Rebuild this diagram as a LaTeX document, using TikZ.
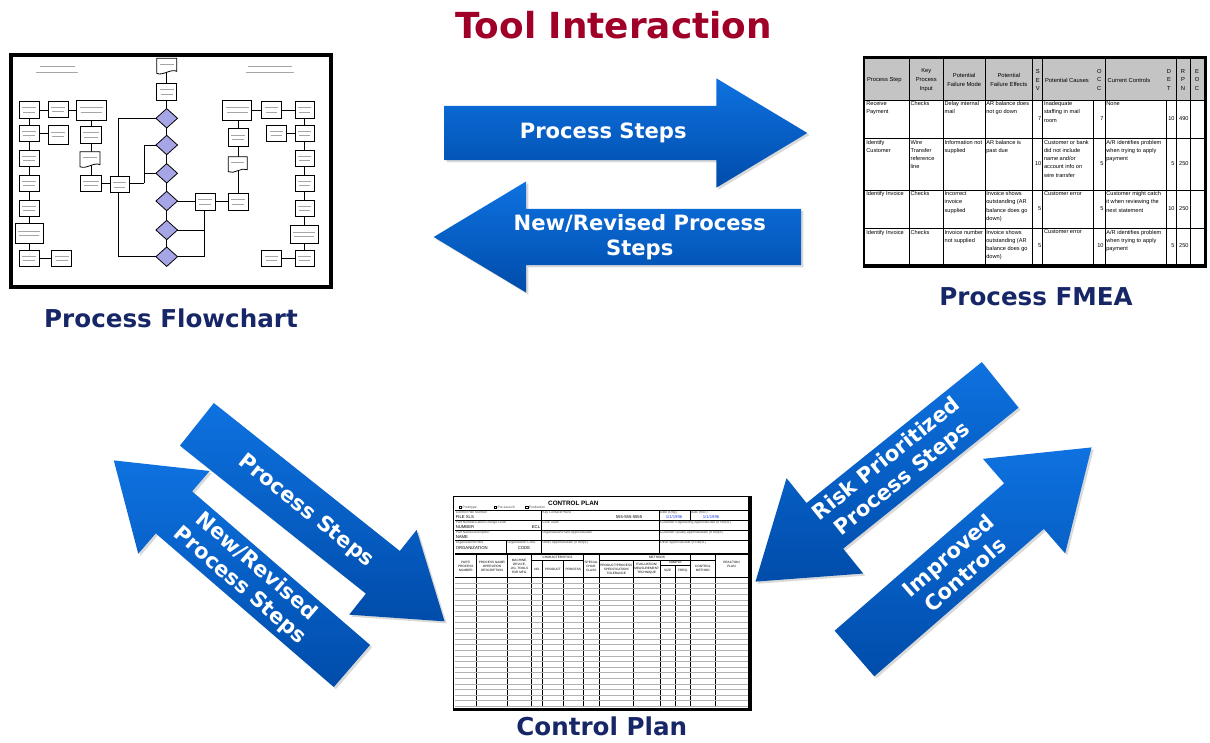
\documentclass[tikz,border=0pt]{standalone}
\usepackage{fontspec}
\setmainfont{DejaVu Sans}
\newfontfamily\sheetfont{Liberation Sans}
\usetikzlibrary{shapes.arrows,shadows,calc}

\definecolor{titlered}{RGB}{160,0,40}
\definecolor{labelnavy}{RGB}{22,38,102}
\definecolor{arrowlight}{RGB}{14,114,224}
\definecolor{arrowdark}{RGB}{0,76,170}
\definecolor{decision}{RGB}{166,166,230}
\definecolor{headgray}{RGB}{196,196,196}
\definecolor{dateblue}{RGB}{40,70,240}

\newcommand{\fmearow}[8]{%
  \node[cell,anchor=north west] (r#1a) at (865.3,#2) {#3};
  \node[cell,anchor=north west] (r#1b) at (909.6,#2) {#4};
  \node[cell,anchor=north west] (r#1c) at (943.6,#2) {#5};
  \node[cell,anchor=north west] (r#1d) at (985.3,#2) {#6};
  \node[cell,anchor=north west] (r#1e) at (1043,#2) {#7};
  \node[cell,anchor=north west] (r#1f) at (1105.3,#2) {#8};}

\begin{document}
\begin{tikzpicture}[x=0.02cm,y=-0.02cm,
  title/.style={font=\fontsize{20.4}{24}\selectfont\bfseries,text=titlered},
  caption/.style={font=\fontsize{14}{17}\selectfont\bfseries,text=labelnavy},
  bigarrow/.style={single arrow,minimum width=0pt,inner xsep=0pt,
    top color=arrowlight,bottom color=arrowdark,
    drop shadow={opacity=.3,shadow xshift=1.2pt,shadow yshift=-1.2pt}},
  arrowtext/.style={text=white,align=center,inner sep=0pt,
    font=\fontsize{12}{14.4}\selectfont\bfseries},
  fline/.style={line width=.45pt},
  fbox/.style={line width=.45pt,fill=white},
  ftext/.style={gray!70,line width=.35pt},
  grid/.style={line width=.4pt},
  cell/.style={inner sep=.4pt,align=left,font=\sheetfont\fontsize{3.2}{4.7}\selectfont},
  head/.style={inner sep=.4pt,align=center,font=\sheetfont\fontsize{3.3}{5}\selectfont},
  form/.style={inner sep=0pt,font=\sheetfont\fontsize{1.9}{2.3}\selectfont,text=black!70},
  formval/.style={inner sep=0pt,font=\sheetfont\fontsize{2.4}{2.8}\selectfont},
  colhead/.style={inner sep=0pt,align=center,font=\sheetfont\fontsize{1.8}{2.3}\selectfont}]
\useasboundingbox (0,0) rectangle (1210,743);

\node[title,anchor=base] (title) at (613.5,38.3) {Tool Interaction};

% flowchart sheet
\draw[line width=2.3pt] (11.3,54.7) rectangle (331,287);
\draw[ftext] (40,66) -- (75,66) (36,72) -- (78,72) (248,66) -- (292,66) (246,72) -- (294,72);
\draw[fline] (29.3,110) -- (29.3,258.3) (39.3,110) -- (76.7,110) (39.3,133) -- (48.3,133)
  (91,120) -- (91,183.3) -- (110,183.3) (39.3,258.3) -- (51.7,258.3)
  (166.7,66) -- (166.7,256.7)
  (156.7,118.3) -- (118.3,118.3) -- (118.3,256.7) -- (156.7,256.7)
  (129.3,183.3) -- (144,183.3) (144,145) -- (144,183.3) (144,145) -- (156.7,145) (144,173.3) -- (156.7,173.3)
  (166.7,201) -- (228.3,201)
  (204,210) -- (204,256.7) (166.7,230) -- (204,230) (166.7,256.7) -- (204,256.7)
  (238.3,110) -- (238.3,201) (251.7,110) -- (295,110) (304.7,110) -- (304.7,258.3)
  (286,133) -- (295,133) (281,258.3) -- (295,258.3);
\foreach \xa/\ya/\xb/\yb in {19.3/101.7/39.3/118.3, 48.3/101.7/68.3/117.3, 76.7/100/106/120,
  19.3/125/39.3/141.7, 48.3/125/68.3/144, 80/126.7/101.7/143.3, 19.3/150/39.3/166.7,
  19.3/175/39.3/191.7, 80/175/101.7/191.7, 110/176.7/129.3/192.7, 19.3/200/39.3/216.7,
  15/223.3/43.3/243.3, 19.3/250/39.3/266.7, 51.7/250/71.7/266.7,
  156.7/83.3/176.7/100, 195/193.3/215/210,
  222.7/100/251.7/120, 261.7/101.7/281/118.3, 295/101.7/314.3/118.3, 228.3/128.3/248.3/146.7,
  266.7/125/286/141.7, 295/125/314.3/141.7, 295/150/314.3/166.7, 228.3/193.3/248.3/210,
  295/175/314.3/191.7, 295/200/314.3/216.7, 290/225/318.3/243.3, 295/250/314.3/266.7,
  261.7/250/281/266.7}
{
\draw[fbox] (\xa,\ya) rectangle (\xb,\yb);
\draw[ftext] ({\xa+3},{(\ya+\yb)/2-2.2}) -- ({\xb-3},{(\ya+\yb)/2-2.2})
  ({\xa+4},{(\ya+\yb)/2+2.2}) -- ({\xb-4},{(\ya+\yb)/2+2.2});
}
\foreach \xa/\ya/\xb/\yb in {80/151.7/100/166.7, 228.3/156.7/247.3/171.7, 156.7/58.3/176.7/73.3}
{
\draw[fbox] (\xa,\ya) -- (\xb,\ya) -- (\xb,{\yb-2}) .. controls ({\xa+0.7*(\xb-\xa)},{\yb-5}) and ({\xa+0.3*(\xb-\xa)},{\yb+3}) .. (\xa,\yb) -- cycle;
\draw[ftext] ({\xa+3},{(\ya+\yb)/2-1.5}) -- ({\xb-3},{(\ya+\yb)/2-1.5});
}
\foreach \cy in {118.3,145,173.3,201,230,256.7}
\draw[fbox,fill=decision] (166.7,\cy-9.7) -- (177.5,\cy) -- (166.7,\cy+9.7) -- (155.9,\cy) -- cycle;
\node[caption,anchor=base] (flowcap) at (171,327.3) {Process Flowchart};

% FMEA sheet
\fill (862.7,56) rectangle (1206.7,268.3);
\fill[white] (865,59.3) rectangle (1203.5,264);
\fill[headgray] (865,59.3) rectangle (1203.5,100);
\draw[grid] (865,100) -- (1203.5,100) (865,138.3) -- (1203.5,138.3)
  (865,190) -- (1203.5,190) (865,228.3) -- (1203.5,228.3);
\foreach \cx in {909.3,943.3,985,1032.7,1042.7,1105,1176,1190}
\draw[grid] (\cx,59.3) -- (\cx,264);
\foreach \cx in {1093.3,1166}
\draw[grid] (\cx,100) -- (\cx,264);
\node[head,anchor=west] (h1) at (866,80) {Process Step};
\node[head] (h2) at (926.3,80) {Key\\Process\\Input};
\node[head] (h3) at (964.2,80) {Potential\\Failure Mode};
\node[head] (h4) at (1008.8,80) {Potential\\Failure Effects};
\node[head] (h5) at (1037.7,80) {S\\E\\V};
\node[head,anchor=west] (h6) at (1044,80) {Potential Causes};
\node[head] (h7) at (1099.3,80) {O\\C\\C};
\node[head] (h8) at (1129,80) {Current Controls};
\node[head] (h9) at (1169,80) {D\\E\\T};
\node[head] (h10) at (1183,80) {R\\P\\N};
\node[head] (h11) at (1197,80) {E\\O\\C};
\fmearow{1}{100.6}{Receive\\Payment}{Checks}{Delay internal\\mail}{AR balance does\\not go down}{Inadequate\\staffing in mail\\room}{None}
\fmearow{2}{138.9}{Identify\\Customer}{Wire\\Transfer\\reference\\line}{Information not\\supplied}{AR balance is\\past due}{Customer or bank\\did not include\\name and/or\\account info on\\wire transfer}{A/R identifies problem\\when trying to apply\\payment}
\fmearow{3}{190.6}{Identify Invoice}{Checks}{Incorrect\\invoice\\supplied}{Invoice shows\\outstanding (AR\\balance does go\\down)}{Customer error}{Customer might catch\\it when reviewing the\\next statement}
\fmearow{4}{228.9}{Identify Invoice}{Checks}{Invoice number\\not supplied}{Invoice shows\\outstanding (AR\\balance does go\\down)}{Customer error}{A/R identifies problem\\when trying to apply\\payment}
\foreach \r/\ym/\sev/\occ/\dt/\rpn in {1/119/7/7/10/490, 2/164/10/5/5/250, 3/209/5/5/10/250, 4/246/5/10/5/250}
{
\node[cell,anchor=east] (sev\r) at (1042.3,\ym) {\sev};
\node[cell,anchor=east] (occ\r) at (1104.6,\ym) {\occ};
\node[cell,anchor=east] (det\r) at (1175.6,\ym) {\dt};
\node[cell,anchor=east] (rpn\r) at (1189.6,\ym) {\rpn};
}
\node[caption,anchor=base] (fmeacap) at (1036,305) {Process FMEA};

% control plan sheet
\fill (452.7,496) rectangle (751.7,711);
\fill[white] (454.3,497.3) rectangle (748.3,708);
\node[inner sep=0pt,font=\sheetfont\bfseries\fontsize{3.6}{4}\selectfont] (cptitle) at (573.3,503.3) {CONTROL PLAN};
\foreach \bx/\lab/\nm in {459/Prototype/proto, 494/Pre-Launch/prelaunch, 525.5/Production/prod}
{
\draw[line width=.25pt] (\bx,506) rectangle ({\bx+2.6},508.6);
\node[form,anchor=west] (\nm) at ({\bx+3.2},507.3) {\lab};
}
\draw[line width=.3pt] (455,510) -- (748,510) (455,520) -- (748,520) (455,530) -- (748,530)
  (455,540) -- (748,540) (541.7,510) -- (541.7,554) (659.3,510) -- (659.3,554)
  (690,510) -- (690,520) (506.7,540) -- (506.7,554);
\draw[line width=.6pt] (455,554) -- (748,554) (455,577.3) -- (748,577.3);
\foreach \cx in {476.7,507.3,531.7,583.3,599.3,690.7,715}
\draw[line width=.3pt] (\cx,554) -- (\cx,706.7);
\foreach \cx in {542.7,563.3,633.3,660}
\draw[line width=.3pt] (\cx,560.7) -- (\cx,706.7);
\draw[line width=.3pt] (675.3,565) -- (675.3,706.7) (531.7,560.7) -- (583.3,560.7)
  (599.3,560.7) -- (715,560.7) (660,565) -- (690.7,565);
\foreach \k in {1,...,23}
\draw[gray!60,line width=.2pt] (455,{577.3+5.6*\k}) -- (748,{577.3+5.6*\k});
\foreach \lx/\ly/\lab/\nm in {455.5/512.2/Control Plan Number/fa1, 542.2/512.2/Key Contact\slash Phone/fb1,
  659.8/512.2/Date (Orig.)/fc1, 690.5/512.2/Date (Rev.)/fd1,
  455.5/522.2/Part Number\slash Latest Change Level/fa2, 542.2/522.2/Core Team/fb2,
  659.8/522.2/Customer Engineering Approval\slash Date (If Req'd.)/fc2,
  455.5/532.2/Part Name\slash Description/fa3, 542.2/532.2/Organization\slash Plant Approval\slash Date/fb3,
  659.8/532.2/Customer Quality Approval\slash Date (If Req'd.)/fc3,
  455.5/542.4/Organization\slash Plant/fa4, 507.2/542.4/Organization Code/fe4,
  542.2/542.4/Other Approval\slash Date (If Req'd.)/fb4, 659.8/542.4/Other Approval\slash Date (If Req'd.)/fc4}
\node[form,anchor=west] (\nm) at (\lx,\ly) {\lab};
\node[formval,anchor=west] (vfile) at (455.5,517.3) {FILE XLS};
\node[formval] (vphone) at (629,517.3) {555-555-5555};
\node[formval,text=dateblue] (vorig) at (674,517.3) {1/1/1996};
\node[formval,text=dateblue] (vrev) at (711,517.3) {1/1/1996};
\node[formval,anchor=west] (vnum) at (455.5,527.3) {NUMBER};
\node[formval] (vecl) at (536,527.3) {ECL};
\node[formval,anchor=west] (vname) at (455.5,537.3) {NAME};
\node[formval,anchor=west] (vorg) at (455.5,548.5) {ORGANIZATION};
\node[formval] (vcode) at (524,548.5) {CODE};
\node[colhead] (c1) at (465.8,566) {PART/\\PROCESS\\NUMBER};
\node[colhead] (c2) at (492,566) {PROCESS NAME/\\OPERATION\\DESCRIPTION};
\node[colhead] (c3) at (519.5,566) {MACHINE,\\DEVICE,\\JIG, TOOLS\\FOR MFG.};
\node[colhead] (c4) at (557.5,557.5) {CHARACTERISTICS};
\node[colhead] (c5) at (537.2,569) {NO.};
\node[colhead] (c6) at (553,569) {PRODUCT};
\node[colhead] (c7) at (573.3,569) {PROCESS};
\node[colhead] (c8) at (591.3,566) {SPECIAL\\CHAR.\\CLASS};
\node[colhead] (c9) at (657,557.5) {METHODS};
\node[colhead] (c10) at (616.3,569) {PRODUCT/PROCESS\\SPECIFICATION/\\TOLERANCE};
\node[colhead] (c11) at (646.7,569) {EVALUATION/\\MEASUREMENT\\TECHNIQUE};
\node[colhead] (c12) at (675.3,562.6) {SAMPLE};
\node[colhead] (c13) at (667.7,570.5) {SIZE};
\node[colhead] (c14) at (683,570.5) {FREQ.};
\node[colhead] (c15) at (702.8,568) {CONTROL\\METHOD};
\node[colhead] (c16) at (731.5,564) {REACTION\\PLAN};
\node[caption,anchor=base] (plancap) at (601.7,735) {Control Plan};

% block arrows
\node[bigarrow,minimum height=206.4pt,inner ysep=15.3pt,single arrow head extend=15.6pt,
  single arrow tip angle=62,anchor=tip] (steps) at (808,133) {};
\node[bigarrow,shape border rotate=180,minimum height=209.2pt,inner ysep=15.85pt,
  single arrow head extend=15.6pt,single arrow tip angle=62,anchor=tip] (revised) at (433,237) {};
\node[bigarrow,rotate=-38.5,minimum height=180.1pt,inner ysep=15.3pt,
  single arrow head extend=15.3pt,single arrow tip angle=69,anchor=tip] (stepsdown) at (445,621.7) {};
\node[bigarrow,rotate=-40.8,shape border rotate=180,minimum height=179.1pt,inner ysep=15.6pt,
  single arrow head extend=15.3pt,single arrow tip angle=69,anchor=tip] (revisedup) at (113.3,460) {};
\node[bigarrow,rotate=38.8,shape border rotate=180,minimum height=178.7pt,inner ysep=16.45pt,
  single arrow head extend=18.15pt,single arrow tip angle=69,anchor=tip] (risk) at (755,582) {};
\node[bigarrow,rotate=41,minimum height=178.8pt,inner ysep=17pt,
  single arrow head extend=18.45pt,single arrow tip angle=70,anchor=tip] (improved) at (1092,447) {};

\node[arrowtext] (stepstext) at ($(steps.tail)!0.437!(steps.tip)$) {Process Steps};
\node[arrowtext] (revisedtext) at ($(revised.tail)!0.439!(revised.tip)$) {New/Revised Process\\Steps};
\node[arrowtext,rotate=-38.5] (stepsdowntext) at ($(stepsdown.tail)!0.44!(stepsdown.tip)$) {Process Steps};
\node[arrowtext,rotate=-40.8] (revisituptext) at ($(revisedup.tail)!0.436!(revisedup.tip)$) {New/Revised\\Process Steps};
\node[arrowtext,rotate=38.8] (risktext) at ($(risk.tail)!0.43!(risk.tip)$) {Risk Prioritized\\Process Steps};
\node[arrowtext,rotate=41] (improvedtext) at ($(improved.tail)!0.43!(improved.tip)$) {Improved\\Controls};
\end{tikzpicture}
\end{document}
